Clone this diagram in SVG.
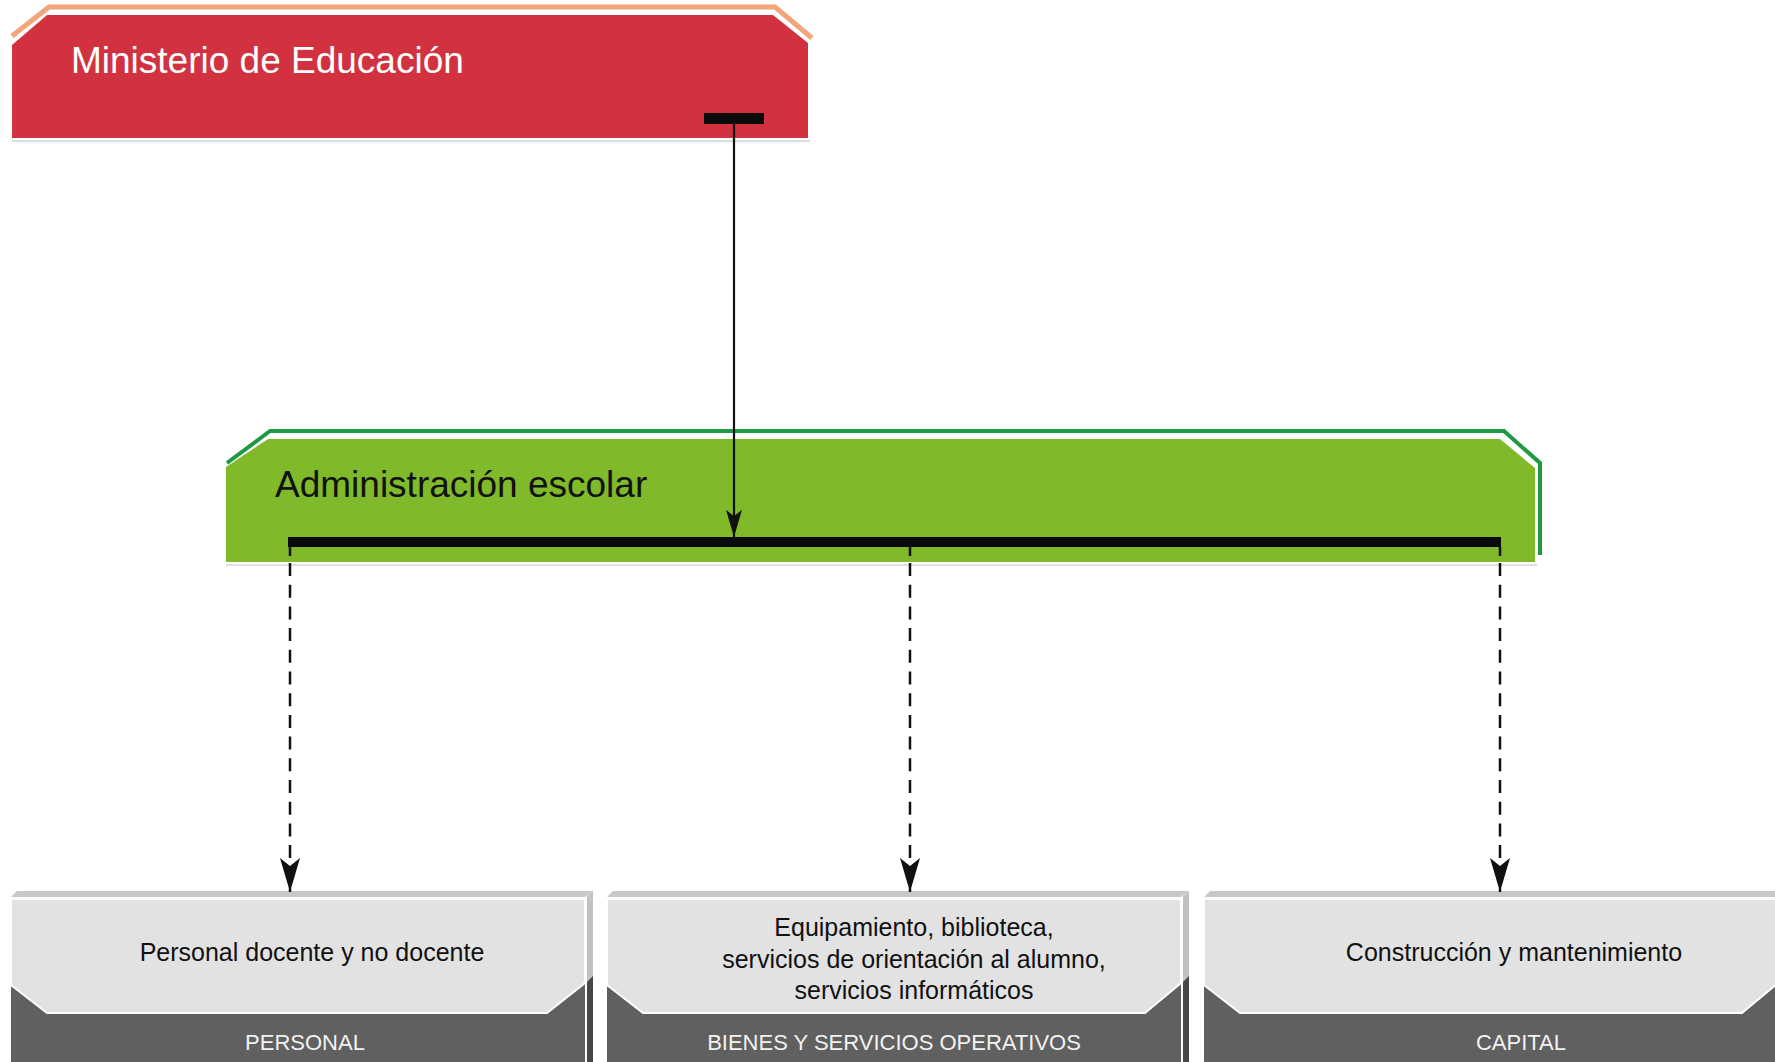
<svg xmlns="http://www.w3.org/2000/svg" width="1775" height="1062" viewBox="0 0 1775 1062">
<defs>
<style>
.t{font-family:"Liberation Sans",Arial,sans-serif}
.title{font-size:37px}
.body{font-size:25px;fill:#111;text-anchor:middle}
.cap{font-size:22px;fill:#f2f2f2;text-anchor:middle}
.dash{stroke:#111;stroke-width:2.5;stroke-dasharray:13 8.7;fill:none}
.top{fill:#c8c8c8}
.sideL{fill:#c2c2c2}
.sideD{fill:#474747}
.front{fill:#606060}
.light{fill:#e2e2e2;stroke:#fff;stroke-width:2}
</style>
<marker id="ah" viewBox="0 0 34 20" refX="34" refY="10" markerWidth="34" markerHeight="20" markerUnits="userSpaceOnUse" orient="auto">
<path d="M0,0 L8,10 L0,20 Q17,15 34,10 Q17,5 0,0 Z" fill="#111"/>
</marker>
<marker id="ah2" viewBox="0 0 34 20" refX="34" refY="10" markerWidth="28" markerHeight="16" markerUnits="userSpaceOnUse" orient="auto">
<path d="M0,0 L8,10 L0,20 Q17,15 34,10 Q17,5 0,0 Z" fill="#111"/>
</marker>
</defs>
<rect width="1775" height="1062" fill="#fff"/>

<g id="ministerio">
<line x1="12" y1="141" x2="810" y2="141" stroke="#dcdcdc" stroke-width="2"/>
<polyline points="12,36 49,7 775,7 812,38" fill="none" stroke="#f2a47a" stroke-width="5"/>
<polygon points="12,45 47,15 773,15 808,43 808,138 12,138" fill="#d2323f"/>
<text class="t title" x="71" y="73" fill="#fff">Ministerio de Educación</text>
<rect x="704" y="113" width="60" height="11" fill="#0a0a0a"/>
</g>

<g id="administracion">
<line x1="226" y1="565" x2="1537" y2="565" stroke="#e0e0e0" stroke-width="2"/>
<polyline points="227,463 270,431 1504,431 1540,463 1540,555" fill="none" stroke="#1f9a43" stroke-width="4"/>
<polygon points="226,467 268,439 1500,439 1535,468 1535,562 226,562" fill="#80b929"/>
<text class="t title" x="275" y="497" fill="#111">Administración escolar</text>
<rect x="288" y="537" width="1213" height="10" fill="#0a0a0a"/>
</g>

<g id="personal">
<polygon class="top" points="11,897 17,891 593,891 585,897"/>
<polygon class="sideL" points="587,896 593,891 593,1062 587,1062"/>
<polygon class="sideD" points="587,982 593,976 593,1062 587,1062"/>
<rect class="front" x="11" y="899" width="574" height="163"/>
<polygon class="light" points="11,899 585,899 585,983 547,1013 47,1013 11,985"/>
<text class="t body" x="312" y="961">Personal docente y no docente</text>
<text class="t cap" x="305" y="1050">PERSONAL</text>
</g>

<g id="bienes">
<polygon class="top" points="607,897 613,891 1189,891 1181,897"/>
<polygon class="sideL" points="1183,896 1189,891 1189,1062 1183,1062"/>
<polygon class="sideD" points="1183,982 1189,976 1189,1062 1183,1062"/>
<rect class="front" x="607" y="899" width="574" height="163"/>
<polygon class="light" points="607,899 1181,899 1181,983 1145,1013 643,1013 607,985"/>
<text class="t body" x="914" y="936">Equipamiento, biblioteca,</text>
<text class="t body" x="914" y="968">servicios de orientación al alumno,</text>
<text class="t body" x="914" y="999">servicios informáticos</text>
<text class="t cap" x="894" y="1050">BIENES Y SERVICIOS OPERATIVOS</text>
</g>

<g id="capital">
<polygon class="top" points="1204,897 1210,891 1786,891 1778,897"/>
<rect class="front" x="1204" y="899" width="574" height="163"/>
<polygon class="light" points="1204,899 1778,899 1778,983 1742,1013 1240,1013 1204,985"/>
<text class="t body" x="1514" y="961">Construcción y mantenimiento</text>
<text class="t cap" x="1521" y="1050">CAPITAL</text>
</g>

<g id="connectors">
<line x1="734" y1="124" x2="734" y2="537" stroke="#111" stroke-width="2.2" marker-end="url(#ah2)"/>
<line x1="290" y1="547" x2="290" y2="556" stroke="#111" stroke-width="2.5"/>
<line x1="910" y1="547" x2="910" y2="556" stroke="#111" stroke-width="2.5"/>
<line x1="1500" y1="547" x2="1500" y2="556" stroke="#111" stroke-width="2.5"/>
<line class="dash" x1="290" y1="563" x2="290" y2="892" marker-end="url(#ah)"/>
<line class="dash" x1="910" y1="563" x2="910" y2="892" marker-end="url(#ah)"/>
<line class="dash" x1="1500" y1="563" x2="1500" y2="892" marker-end="url(#ah)"/>
</g>
</svg>
